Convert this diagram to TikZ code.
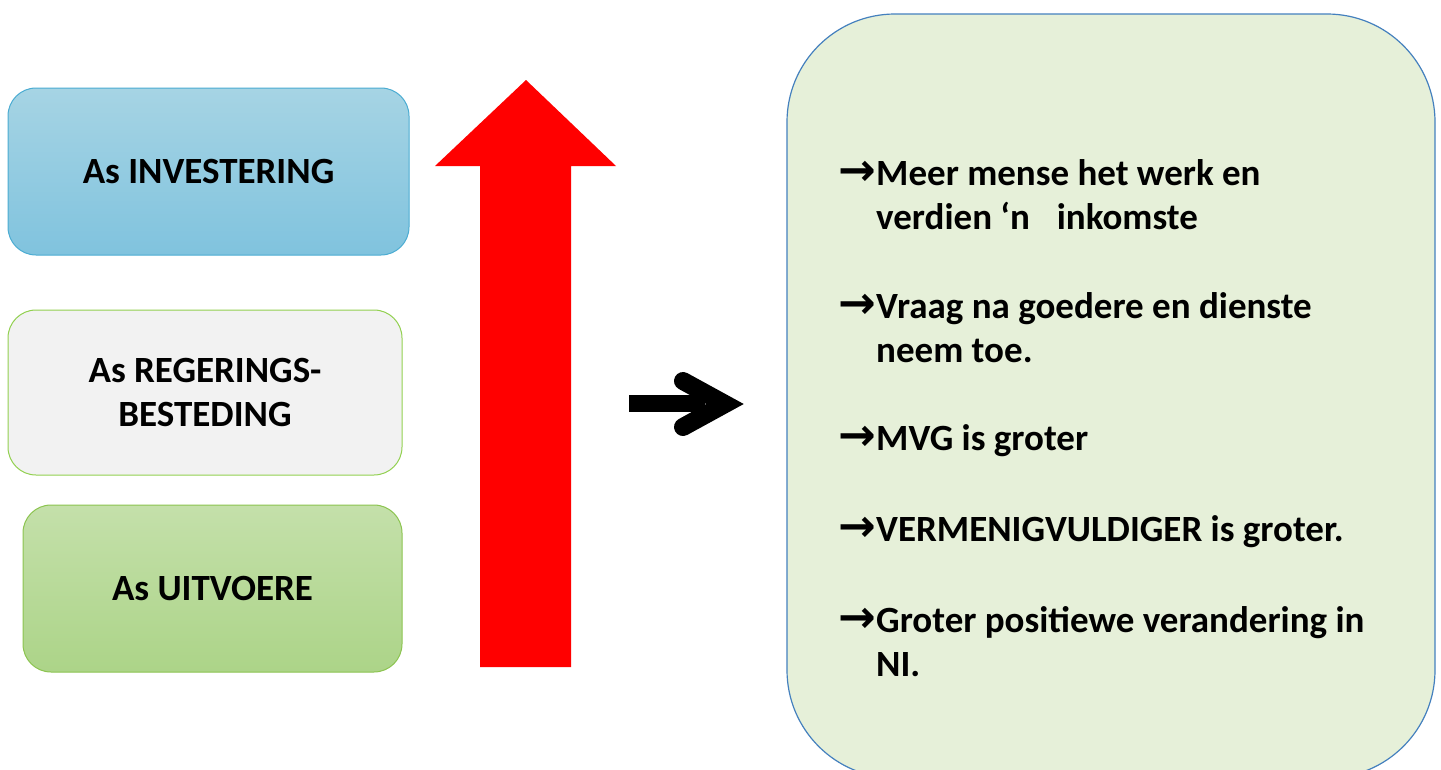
\documentclass[tikz,border=0pt]{standalone}
\usepackage{fontspec}
\setmainfont{Carlito}
\newfontfamily\arrowfont{DejaVu Sans}
\usepackage{tikz}
\usetikzlibrary{positioning}

\definecolor{invtop}{RGB}{166,212,228}
\definecolor{invbot}{RGB}{128,195,222}
\definecolor{invline}{RGB}{75,172,210}
\definecolor{reggray}{RGB}{242,242,242}
\definecolor{regline}{RGB}{146,208,80}
\definecolor{uittop}{RGB}{196,224,170}
\definecolor{uitbot}{RGB}{172,212,136}
\definecolor{uitline}{RGB}{140,196,80}
\definecolor{gevolg}{RGB}{230,240,217}
\definecolor{gevolgline}{RGB}{68,128,190}

\tikzset{
  asbox/.style={rounded corners=28pt, line width=1pt, align=center,
    inner sep=0pt, font=\fontsize{37}{44}\selectfont\bfseries},
  punt/.style={anchor=west, align=left, inner sep=0pt,
    font=\fontsize{37}{44}\selectfont\bfseries}
}
\newcommand{\pyl}{\makebox[38pt][l]{\arrowfont\fontsize{45}{44}\selectfont →}}
\newcommand{\inspring}{\hspace*{38pt}}

\begin{document}
\begin{tikzpicture}[x=1pt,y=-1pt]
\useasboundingbox (0,0) rectangle (1441,769);
\clip (0,0) rectangle (1441,769);

\node[asbox, draw=invline, top color=invtop, bottom color=invbot,
  minimum width=401pt, minimum height=167pt] (inv) at (208.5,171.5) {As INVESTERING};
\node[asbox, draw=regline, fill=reggray,
  minimum width=394pt, minimum height=165pt] (reg) at (205,392.5) {As REGERINGS-\\BESTEDING};
\node[asbox, draw=uitline, top color=uittop, bottom color=uitbot,
  minimum width=379pt, minimum height=167pt] (uit) at (212.5,588.5) {As UITVOERE};

\fill[red] (480,667) -- (480,166) -- (435,166) -- (526,80) -- (616,166)
  -- (571,166) -- (571,667) -- cycle;

\fill[black] (629,395) rectangle (705,412);
\draw[black, line width=18pt, line cap=round, line join=miter]
  (683,381) -- (725,404) -- (683,427);

\draw[gevolgline, fill=gevolg, line width=1.2pt, rounded corners=108pt]
  (787,14) rectangle (1435,778);

\node[punt] (p1) at (838,195) {\pyl Meer mense het werk en\\\inspring verdien ‘n\hspace{27pt}inkomste};
\node[punt] (p2) at (838,328) {\pyl Vraag na goedere en dienste\\\inspring neem toe.};
\node[punt] (p3) at (838,441) {\pyl MVG is groter};
\node[punt] (p4) at (838,532) {\pyl VERMENIGVULDIGER is groter.};
\node[punt] (p5) at (838,642) {\pyl Groter positiewe verandering in\\\inspring NI.};
\end{tikzpicture}
\end{document}
